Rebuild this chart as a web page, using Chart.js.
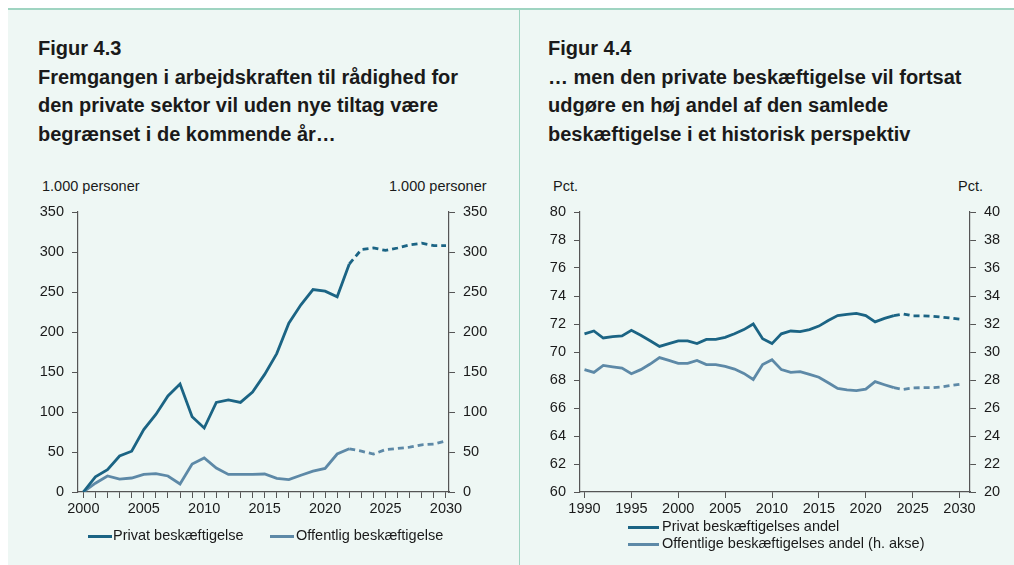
<!DOCTYPE html>
<html lang="da">
<head>
<meta charset="utf-8">
<script src="https://cdn.jsdelivr.net/npm/chart.js@4/dist/chart.umd.min.js"></script>
<style>
  html, body { margin: 0; padding: 0; background: #fff; }
  body { width: 1014px; height: 565px; position: relative; overflow: hidden;
    font-family: "Liberation Sans", Arial, sans-serif; color: #1a1a1a; }
  #panel { position: absolute; left: 8px; top: 8px; right: 0; bottom: 0;
    background: #eef7f4; border-top: 2px solid #9fd4c1; }
  #divider { position: absolute; left: 519px; top: 10px; bottom: 0; width: 1px; background: #9fd4c1; }
  .title { position: absolute; top: 34px; font-weight: bold; font-size: 20px; line-height: 28.5px; }
  .unit { position: absolute; top: 178px; font-size: 14.5px; }
  .box { position: absolute; }
  .leg { position: absolute; font-size: 14.5px; white-space: nowrap; }
  .leg i { position: absolute; height: 3px; }
</style>
</head>
<body>
<div id="panel"></div>
<div id="divider"></div>

<div class="title" style="left:38px">Figur 4.3<br>Fremgangen i arbejdskraften til rådighed for<br>den private sektor vil uden nye tiltag være<br>begrænset i de kommende år…</div>
<div class="title" style="left:548px">Figur 4.4<br>… men den private beskæftigelse vil fortsat<br>udgøre en høj andel af den samlede<br>beskæftigelse i et historisk perspektiv</div>

<div class="unit" style="left:42px">1.000 personer</div>
<div class="unit" style="left:389px">1.000 personer</div>
<div class="unit" style="left:553px">Pct.</div>
<div class="unit" style="left:958px">Pct.</div>

<div class="box" style="left:0;top:170px;width:519px;height:395px"><canvas id="c1"></canvas></div>
<div class="box" style="left:519px;top:170px;width:495px;height:395px"><canvas id="c2"></canvas></div>

<div class="leg" style="left:88px;top:527px"><i style="left:0;width:24px;top:8px;background:#1b6484"></i><span style="margin-left:25px">Privat beskæftigelse</span></div>
<div class="leg" style="left:270px;top:527px"><i style="left:0;width:24px;top:8px;background:#5d89a7"></i><span style="margin-left:26px">Offentlig beskæftigelse</span></div>
<div class="leg" style="left:628px;top:518px"><i style="left:0;width:31px;top:8px;background:#1b6484"></i><span style="margin-left:34px">Privat beskæftigelses andel</span></div>
<div class="leg" style="left:628px;top:535px"><i style="left:0;width:31px;top:8px;background:#5d89a7"></i><span style="margin-left:34px">Offentlige beskæftigelses andel (h. akse)</span></div>

<script>
"use strict";

// Figur 4.3 – fremgang siden 2000, 1.000 personer
const years43 = [2000, 2001, 2002, 2003, 2004, 2005, 2006, 2007, 2008, 2009, 2010,
  2011, 2012, 2013, 2014, 2015, 2016, 2017, 2018, 2019, 2020,
  2021, 2022, 2023, 2024, 2025, 2026, 2027, 2028, 2029, 2030];
const privat43 = [0, 19, 28, 45, 51, 78, 97, 120, 135, 94, 80,
  112, 115, 112, 125, 147, 173, 211, 234, 253, 251,
  244, 285, 303, 305, 302, 305, 309, 311, 308, 308];
const offentlig43 = [0, 11, 20, 16, 17.5, 22, 23, 20, 10, 35, 42.5,
  30, 22, 22, 22, 22.5, 17, 15.5, 21, 26, 29.5,
  47.5, 54, 51, 47.5, 53, 54.5, 56, 59, 60, 64];
const split43 = 2022;
const xTicks43 = [2000, 2005, 2010, 2015, 2020, 2025, 2030];

// Figur 4.4 – andele af samlet beskæftigelse, pct.
const years44 = [1990, 1991, 1992, 1993, 1994, 1995, 1996, 1997, 1998, 1999,
  2000, 2001, 2002, 2003, 2004, 2005, 2006, 2007, 2008, 2009,
  2010, 2011, 2012, 2013, 2014, 2015, 2016, 2017, 2018, 2019,
  2020, 2021, 2022, 2023, 2024, 2025, 2026, 2027, 2028, 2029, 2030];
const privat44 = [71.3, 71.5, 71.0, 71.1, 71.15, 71.55, 71.2, 70.8, 70.4, 70.6,
  70.8, 70.8, 70.6, 70.9, 70.9, 71.05, 71.3, 71.6, 72.0, 70.95,
  70.6, 71.3, 71.5, 71.45, 71.6, 71.85, 72.25, 72.6, 72.68, 72.76,
  72.6, 72.15, 72.4, 72.6, 72.72, 72.58, 72.58, 72.56, 72.5, 72.43, 72.35];
const offentlig44 = [28.74, 28.54, 29.04, 28.94, 28.85, 28.45, 28.74, 29.14, 29.6, 29.4,
  29.19, 29.19, 29.4, 29.1, 29.1, 28.97, 28.78, 28.47, 28.04, 29.1,
  29.45, 28.74, 28.54, 28.6, 28.4, 28.2, 27.8, 27.4, 27.3, 27.24,
  27.35, 27.88, 27.66, 27.45, 27.33, 27.43, 27.45, 27.45, 27.5, 27.6, 27.69];
const split44 = 2023;
const xTicks44 = [1990, 1995, 2000, 2005, 2010, 2015, 2020, 2025, 2030];

const DARK = "#1b6484";
const LIGHT = "#5d89a7";
const AXIS = "#555";
const FONT = { family: "'Liberation Sans', Arial, sans-serif", size: 14.5 };

Chart.defaults.color = "#1a1a1a";
Chart.defaults.font = FONT;

function pts(xs, ys) { return xs.map((x, i) => ({ x, y: ys[i] })); }

function series(xs, ys, color, split, axis) {
  return {
    data: pts(xs, ys), yAxisID: axis, borderColor: color, borderWidth: 2.8,
    pointRadius: 0, tension: 0, borderCapStyle: "butt",
    segment: { borderDash: (c) => (c.p0.parsed.x >= split ? [6, 4] : undefined) },
  };
}

function yAxis(pos, min, max, step, width) {
  return {
    type: "linear", position: pos, min, max,
    ticks: { stepSize: step, padding: 8, color: "#1a1a1a", font: FONT },
    grid: { drawOnChartArea: false, color: AXIS, tickLength: 6 },
    border: { color: AXIS, width: 1.2 },
    afterFit: (s) => { s.width = width; },
  };
}

function xAxis(min, max, ticks, every) {
  return {
    type: "linear", min, max,
    afterBuildTicks: (s) => {
      const out = [];
      for (let v = ticks[0]; v <= ticks[ticks.length - 1]; v += every) out.push({ value: v });
      s.ticks = out;
    },
    ticks: { autoSkip: false, maxRotation: 0, padding: 2, color: "#1a1a1a", font: FONT,
      callback: (v) => (ticks.includes(v) ? String(v) : "") },
    grid: { drawOnChartArea: false, color: AXIS, tickLength: 6 },
    border: { color: AXIS, width: 1.2 },
    afterFit: (s) => { s.height = 73; },
  };
}

const common = {
  responsive: true, maintainAspectRatio: false, animation: false,
  plugins: { legend: { display: false }, tooltip: { enabled: false } },
  layout: { padding: { top: 42, left: 0, right: 0, bottom: 0 } },
};

new Chart(document.getElementById("c1"), {
  type: "line",
  data: { datasets: [
    series(years43, privat43, DARK, split43, "y"),
    series(years43, offentlig43, LIGHT, split43, "y"),
  ] },
  options: { ...common, scales: {
    x: xAxis(1999.56, 2030.25, xTicks43, 1),
    y: yAxis("left", 0, 350, 50, 78),
    y2: yAxis("right", 0, 350, 50, 70),
  } },
});

new Chart(document.getElementById("c2"), {
  type: "line",
  data: { datasets: [
    series(years44, privat44, DARK, split44, "y"),
    series(years44, offentlig44, LIGHT, split44, "y2"),
  ] },
  options: { ...common, scales: {
    x: xAxis(1989.52, 2031.12, xTicks44, 5),
    y: yAxis("left", 60, 80, 2, 61),
    y2: yAxis("right", 20, 40, 2, 44),
  } },
});
</script>
</body>
</html>
